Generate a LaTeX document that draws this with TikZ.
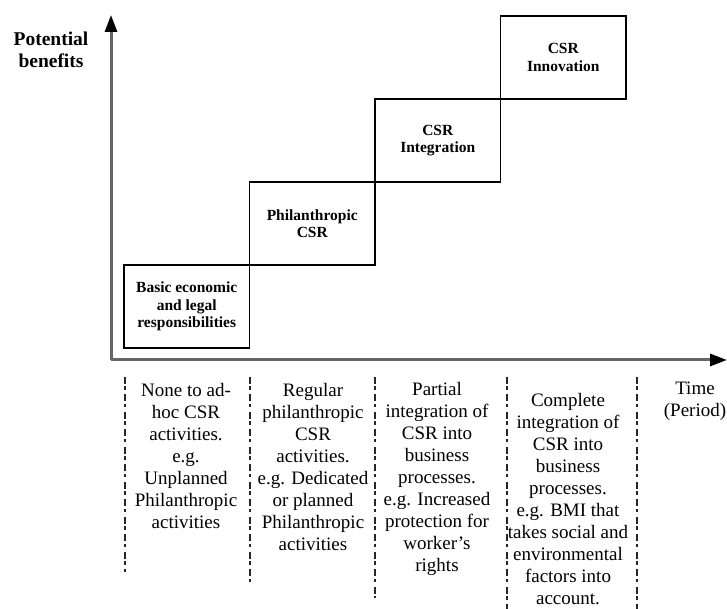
\documentclass[tikz,border=0pt]{standalone}
\usepackage{fontspec}
\setmainfont{Liberation Serif}
\usetikzlibrary{positioning, arrows.meta}

\begin{document}
\begin{tikzpicture}[
    x=1pt, y=1pt,
    stage/.style={rectangle, draw=black, line width=1.5pt, minimum width=125.5pt, minimum height=83pt, inner sep=0pt, outer sep=0pt, align=center, font=\bfseries\fontsize{15.5}{17.5}\selectfont},
    note/.style={align=center, anchor=north, inner sep=0pt, font=\fontsize{19}{22}\selectfont},
    axis/.style={-{Triangle[length=17pt, width=12pt, color=black]}, line width=3pt, draw=black!60},
    divider/.style={line width=2.4pt, draw=black!85, dash pattern=on 7pt off 2.5pt on 3.5pt off 4.5pt}
]
\useasboundingbox (0,0) rectangle (727,609);

\coordinate (origin) at (111,249);
\coordinate (ytip) at (111,594);
\coordinate (xtip) at (727,249);
\draw[axis] (origin) -- (ytip);
\draw[axis] (origin) -- (xtip);

\node[align=center, anchor=north, inner sep=0pt, font=\bfseries\fontsize{19.5}{22}\selectfont] (benefits) at (51,577) {Potential\\benefits};

\node[stage, anchor=south west] (basic) at (124,261) {Basic economic\\and legal\\responsibilities};
\node[stage, above right=0pt and 0pt of basic] (philan) {Philanthropic\\CSR};
\node[stage, above right=0pt and 0pt of philan] (integ) {CSR\\Integration};
\node[stage, above right=0pt and 0pt of integ] (innov) {CSR\\Innovation};

\foreach \x/\yb in {125/37, 250/26, 375/11, 507/0, 637/0}
    \draw[divider] (\x,232) -- (\x,\yb);

\node[note] (adhoc) at (186,226) {None to ad-\\hoc CSR\\activities.\\e.g.\\Unplanned\\Philanthropic\\activities};
\node[note] (regular) at (313,226) {Regular\\philanthropic\\CSR\\activities.\\e.g. Dedicated\\or planned\\Philanthropic\\activities};
\node[note] (partial) at (437,227) {Partial\\integration of\\CSR into\\business\\processes.\\e.g. Increased\\protection for\\worker's\\rights};
\node[note] (complete) at (568,216) {Complete\\integration of\\CSR into\\business\\processes.\\e.g. BMI that\\takes social and\\environmental\\factors into\\account.};
\node[note] (time) at (695,227) {Time\\(Period)};

\end{tikzpicture}
\end{document}
